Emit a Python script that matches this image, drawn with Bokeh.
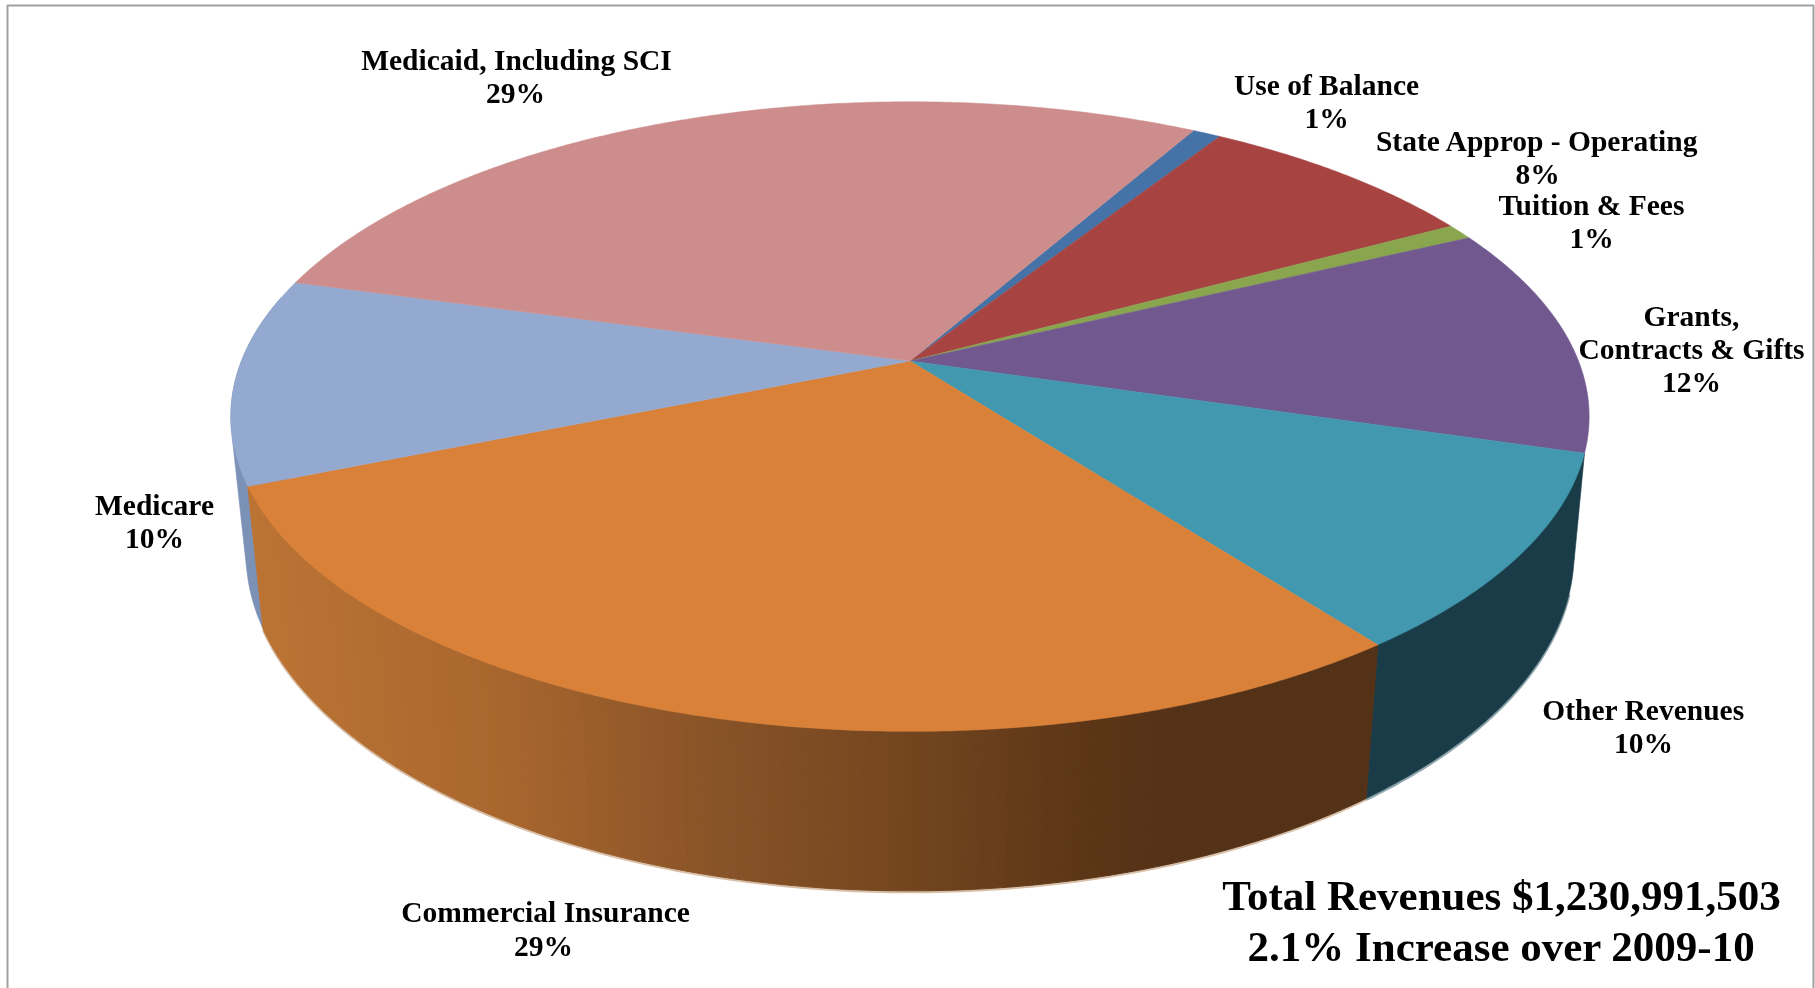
import numpy as np
from bokeh.plotting import figure
from bokeh.models import Range1d
from bokeh.core.properties import value
from bokeh.embed import file_html
from bokeh.resources import INLINE

categories = ["Use of Balance", "State Approp - Operating", "Tuition & Fees",
              "Grants, Contracts & Gifts", "Other Revenues", "Commercial Insurance",
              "Medicare", "Medicaid, Including SCI"]
shares = [0.8, 8.1, 0.8, 11.8, 10.1, 29.0, 10.6, 28.8]
top_colors = ["#4573A7", "#A74442", "#89A54E", "#71588F", "#4198AF", "#D98039", "#93A9CF", "#CD8D8C"]
side_colors = [None, None, None, None, "#1A3C48", None, "#7C91B6", None]
fringe_colors = [None, None, None, None, "#90A8AE", "#D8BFA8", None, None]
START_ANGLE = 29.3

labels = [
    ("Medicaid, Including SCI", 516, 59), ("29%", 515, 92),
    ("Use of Balance", 1326, 84), ("1%", 1326, 117),
    ("State Approp - Operating", 1537, 140), ("8%", 1537, 173),
    ("Tuition & Fees", 1591, 204), ("1%", 1591, 237),
    ("Grants,", 1691, 315), ("Contracts & Gifts", 1691, 348), ("12%", 1691, 381),
    ("Other Revenues", 1643, 709), ("10%", 1643, 742),
    ("Medicare", 154, 504), ("10%", 154, 537),
    ("Commercial Insurance", 545, 911), ("29%", 543, 945),
]
title_lines = [("Total Revenues $1,230,991,503", 1501, 895), ("2.1% Increase over 2009-10", 1501, 946)]

# camera model of the tilted disc (screen pixels)
CX, CY = 909.5, 360.5
K, M = 0.1765, 0.022
A, B, B2, D = 668.5, 305.0, 312.0, 136.0


def project(theta_deg, z=0.0):
    t = np.radians(np.asarray(theta_deg, dtype=float))
    x, y = np.sin(t), np.cos(t)
    w = 1 + K * y + M * z
    return CX + A * x / w, CY - ((B + (B2 - B) * z) * y - D * z) / w


def hull(xs, ys):
    pts = sorted(set(zip(xs, ys)))

    def half(seq):
        out = []
        for q in seq:
            while len(out) > 1 and ((out[-1][0] - out[-2][0]) * (q[1] - out[-2][1])
                                    - (out[-1][1] - out[-2][1]) * (q[0] - out[-2][0])) <= 0:
                out.pop()
            out.append(q)
        return out[:-1]
    h = half(pts) + half(pts[::-1])
    return [q[0] for q in h], [q[1] for q in h]


# gradient stops of the shaded rim: screen x -> colour
grad_x = [245, 500, 700, 900, 1100, 1180, 1400]
grad_rgb = np.array([[188, 116, 52], [168, 102, 46], [138, 84, 40], [116, 70, 31],
                     [90, 53, 22], [84, 50, 24], [84, 50, 24]], dtype=float)


def grad_color(x):
    c = [np.interp(x, grad_x, grad_rgb[:, i]) for i in range(3)]
    return "#%02x%02x%02x" % tuple(int(round(v)) for v in c)


p = figure(width=1815, height=988, x_range=Range1d(0, 1815), y_range=Range1d(988, 0),
           output_backend="svg", toolbar_location=None, min_border=0,
           background_fill_color="white", border_fill_color="white", outline_line_color=None,
           styles={"position": "fixed", "left": "0px", "top": "0px"})
p.axis.visible = False
p.grid.visible = False

edges = START_ANGLE + 3.6 * np.cumsum([0] + shares)
RIM_EXTRA = 14.0  # rim continues behind the top face beyond the slice ends

# thin pale fringe below the rim
for i in range(len(categories)):
    if fringe_colors[i] is not None:
        bx, by = project(np.linspace(edges[i], edges[i + 1], 80), 1)
        p.line(bx, by + 1.2, line_color=fringe_colors[i], line_width=2.5)

# plain rim sides (silhouette = hull of the top and bottom arcs)
for i in range(len(categories)):
    if side_colors[i] is None:
        continue
    if categories[i] == "Other Revenues":
        t0 = np.linspace(edges[i], edges[i + 1], 60)
        t1 = np.linspace(edges[i] - RIM_EXTRA, edges[i + 1], 80)
    else:
        t0 = np.linspace(edges[i], edges[i] + 35, 60)
        t1 = t0
    x0, y0 = project(t0, 0)
    x1, y1 = project(t1, 1)
    hx, hy = hull(list(x0) + list(x1), list(y0) + list(y1))
    p.patch(hx, hy, fill_color=side_colors[i], line_color=side_colors[i], line_width=0.6)

# shaded rim of the largest front slice
i = categories.index("Commercial Insurance")
ts = np.linspace(edges[i], edges[i + 1], 161)
xs, ys, cols = [], [], []
for a, b in zip(ts[:-1], ts[1:]):
    x0, y0 = project([a, b], 0)
    x1, y1 = project([b, a], 1)
    xs.append(list(x0) + list(x1))
    ys.append(list(y0) + list(y1))
    cols.append(grad_color(x0.mean()))
p.patches(xs, ys, fill_color=cols, line_color=cols, line_width=1)

# top faces
for i in range(len(categories)):
    ts = np.linspace(edges[i], edges[i + 1], max(4, int(shares[i] * 8)))
    x0, y0 = project(ts, 0)
    p.patch([CX] + list(x0), [CY] + list(y0), fill_color=top_colors[i],
            line_color=top_colors[i], line_width=0.5)

# labels
p.text([l[1] for l in labels], [l[2] for l in labels], text=[l[0] for l in labels],
       text_font=value("Liberation Serif"), text_font_style="bold", text_font_size="29.5px",
       text_color="#000000", text_align="center", text_baseline="middle")
p.text([l[1] for l in title_lines], [l[2] for l in title_lines], text=[l[0] for l in title_lines],
       text_font=value("Liberation Serif"), text_font_style="bold", text_font_size="43px",
       text_color="#000000", text_align="center", text_baseline="middle")

# chart frame
p.quad(left=[7], right=[1813], top=[5], bottom=[1000], fill_color=None,
       line_color="#A0A0A0", line_width=2)

open("out.html", "w").write(file_html(p, INLINE))
